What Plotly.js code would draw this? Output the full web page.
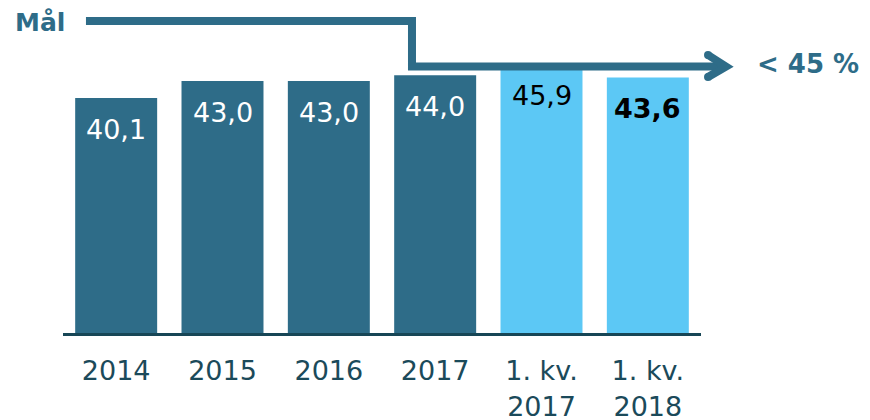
<!DOCTYPE html>
<html>
<head>
<meta charset="utf-8">
<script src="https://cdn.plot.ly/plotly-3.0.1.min.js"></script>
<style>html,body{margin:0;padding:0;background:#fff;}#chart{width:870px;height:420px;}</style>
</head>
<body>
<div id="chart"></div>
<script>
const categories = ["2014", "2015", "2016", "2017", "1. kv.<br>2017", "1. kv.<br>2018"];
const values = [40.1, 43.0, 43.0, 44.0, 45.9, 43.6];
const valueLabels = ["40,1", "43,0", "43,0", "44,0", "45,9", "<b>43,6</b>"];
const targetLabel = "< 45 %";
const goalLabel = "Mål";

const DARK = "#2e6c88";
const LIGHT = "#5cc8f5";
const barColors = [DARK, DARK, DARK, DARK, LIGHT, LIGHT];
const labelColors = ["#ffffff", "#ffffff", "#ffffff", "#ffffff", "#000000", "#000000"];
const xIdx = categories.map((c, i) => i);

const trace = {
  type: "bar",
  x: xIdx,
  y: values,
  marker: {color: barColors},
  hoverinfo: "skip"
};

const annotations = values.map((v, i) => ({
  x: i, y: v, xref: "x", yref: "y",
  text: valueLabels[i],
  showarrow: false,
  yanchor: "middle",
  yshift: -31,
  font: {family: "DejaVu Sans", size: 27, color: labelColors[i]}
}));

annotations.push({
  xref: "paper", yref: "paper", x: -0.0353, y: 1.06,
  xanchor: "center", yanchor: "middle", showarrow: false,
  text: "<b>" + goalLabel + "</b>",
  font: {family: "DejaVu Sans", size: 25, color: DARK}
});
annotations.push({
  xref: "paper", yref: "paper", x: 1.085, y: 0.917,
  xanchor: "left", yanchor: "middle", showarrow: false,
  text: "<b>" + targetLabel + "</b>",
  font: {family: "DejaVu Sans", size: 26, color: DARK}
});

function dot(px, py) {
  return {type: "circle", xref: "paper", yref: "paper",
    xsizemode: "pixel", ysizemode: "pixel", xanchor: px, yanchor: py,
    x0: -4, x1: 4, y0: -4, y1: 4,
    fillcolor: DARK, line: {width: 0}};
}

const shapes = [
  {type: "path", xref: "paper", yref: "paper",
   path: "M 0.036 1.065 L 0.547 1.065 L 0.547 0.9096 L 1.036 0.9096",
   line: {color: DARK, width: 8}},
  {type: "path", xref: "paper", yref: "paper",
   path: "M 1.011 0.9488 L 1.0392 0.9096 L 1.011 0.8737",
   line: {color: DARK, width: 8}},
  dot(1.011, 0.9488),
  dot(1.011, 0.8737)
];

const layout = {
  width: 870, height: 420,
  margin: {l: 63, r: 169, t: 40, b: 87},
  paper_bgcolor: "#ffffff", plot_bgcolor: "#ffffff",
  showlegend: false,
  bargap: 0.229,
  xaxis: {
    range: [-0.5, 5.5],
    tickmode: "array", tickvals: xIdx, ticktext: categories,
    showgrid: false, zeroline: false,
    showline: true, linecolor: "#174656", linewidth: 3,
    ticks: "",
    ticklabelstandoff: 12,
    tickfont: {family: "DejaVu Sans", size: 27, color: "#1b4a5a"},
    fixedrange: true
  },
  yaxis: {
    range: [0, 50], visible: false, showgrid: false, zeroline: false, fixedrange: true
  },
  annotations: annotations,
  shapes: shapes
};

Plotly.newPlot("chart", [trace], layout, {displayModeBar: false, staticPlot: true});
</script>
</body>
</html>
